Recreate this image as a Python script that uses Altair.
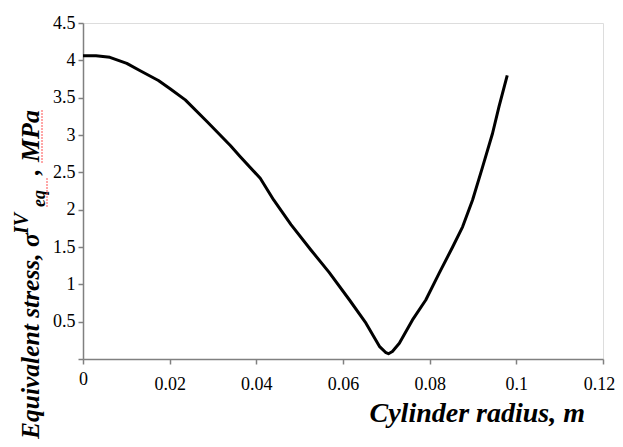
import altair as alt
import pandas as pd

radius = [0, 0.003, 0.0062, 0.0101, 0.0132, 0.0174, 0.0201, 0.0236, 0.0286, 0.034,
          0.0363, 0.0409, 0.044, 0.048, 0.0526, 0.0568, 0.0615, 0.0653, 0.0684, 0.0698,
          0.0705, 0.0714, 0.0730, 0.0760, 0.0791, 0.0822, 0.0853, 0.0876, 0.0899, 0.0922,
          0.0945, 0.0960, 0.0979]
stress = [4.06, 4.06, 4.04, 3.96, 3.86, 3.73, 3.62, 3.47, 3.18, 2.86,
          2.71, 2.42, 2.13, 1.80, 1.46, 1.16, 0.79, 0.48, 0.17, 0.09,
          0.07, 0.10, 0.21, 0.52, 0.79, 1.15, 1.50, 1.77, 2.13, 2.57,
          3.02, 3.38, 3.80]

x_ticks = [0, 0.02, 0.04, 0.06, 0.08, 0.1, 0.12]
y_ticks = [0, 0.5, 1, 1.5, 2, 2.5, 3, 3.5, 4, 4.5]

df = pd.DataFrame({"r": radius, "s": stress})

FONT = "Liberation Serif"
AXC = "#808080"

line = alt.Chart(df).mark_line(color="black", strokeWidth=3, strokeJoin="round",
                               interpolate="linear").encode(
    x=alt.X("r:Q", scale=alt.Scale(domain=[0, 0.12], nice=False, zero=False),
            axis=alt.Axis(values=x_ticks, title=None,
                          labelExpr="format(datum.value, '~g')",
                          labelFont=FONT, labelFontSize=18, labelColor="black",
                          labelFlush=False, labelOverlap=False, labelBound=False,
                          labelPadding={"condition": {"test": "datum.value == 0", "value": 6}, "value": 11},
                          labelOffset={"condition": {"test": "datum.value > 0.11", "value": -4}, "value": 0},
                          tickSize=5, tickColor=AXC, domainColor=AXC,
                          domainWidth=1.5, tickWidth=1.5, grid=False)),
    y=alt.Y("s:Q", scale=alt.Scale(domain=[0, 4.5], nice=False),
            axis=alt.Axis(values=y_ticks, title=None,
                          labelExpr="datum.value == 0 ? '' : format(datum.value, '~g')",
                          labelFont=FONT, labelFontSize=18, labelColor="black",
                          labelFlush=False, labelOverlap=False, labelBound=False,
                          labelPadding=3, tickSize=5, tickColor=AXC, domainColor=AXC,
                          domainWidth=1.5, tickWidth=1.5, grid=False)),
)

def txt(s, x, y, size, angle=270, align="left"):
    return alt.Chart(pd.DataFrame({"t": [s]})).mark_text(
        font=FONT, fontSize=size, fontStyle="italic", fontWeight="bold",
        angle=angle, align=align, baseline="alphabetic", color="black"
    ).encode(x=alt.value(x), y=alt.value(y), text="t:N")

xtitle = txt("Cylinder radius, m", 502, 399, 28, angle=0, align="right")
yt1 = txt("Equivalent stress, σ", -44, 416, 25.5)
yt2 = txt("IV", -55, 211, 20)
yt3 = txt("eq", -38, 184, 18)
yt4 = txt(", MPa", -44, 152, 26)

squiggle = alt.Chart(pd.DataFrame({"a": [0]})).mark_rule(
    color="#ff5050", strokeWidth=1, strokeDash=[2, 1]
).encode(x=alt.value(-41), y=alt.value(87), y2=alt.value(141))
squiggle2 = alt.Chart(pd.DataFrame({"a": [0]})).mark_rule(
    color="#ff5050", strokeWidth=1, strokeDash=[2, 1]
).encode(x=alt.value(-36), y=alt.value(155), y2=alt.value(184))

chart = alt.layer(line, xtitle, yt1, yt2, yt3, yt4, squiggle, squiggle2).properties(
    width=520, height=336,
    autosize=alt.AutoSizeParams(type="none"),
    padding={"left": 75, "top": 15, "right": 12, "bottom": 80},
).configure_view(stroke=None).configure(font=FONT)

chart.save("out.html", embed_options={"renderer": "svg", "actions": False})
